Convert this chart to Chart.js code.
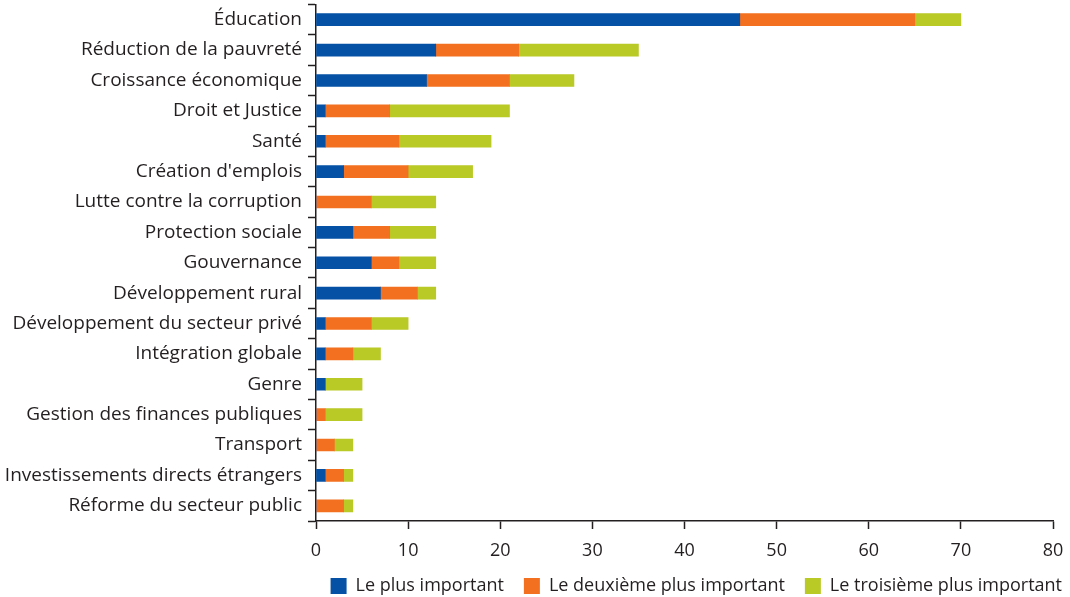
<!DOCTYPE html>
<html>
<head>
<meta charset="utf-8">
<script src="https://cdn.jsdelivr.net/npm/chart.js@4"></script>
<style>
html,body{margin:0;padding:0;background:#fff;}
#wrap{width:1070px;height:597px;position:relative;}
</style>
</head>
<body>
<div id="wrap"><canvas id="c"></canvas></div>
<script>
const categories = ["Éducation","Réduction de la pauvreté","Croissance économique","Droit et Justice","Santé","Création d'emplois","Lutte contre la corruption","Protection sociale","Gouvernance","Développement rural","Développement du secteur privé","Intégration globale","Genre","Gestion des finances publiques","Transport","Investissements directs étrangers","Réforme du secteur public"];
const plusImportant =      [46,13,12,1,1,3,0,4,6,7,1,1,1,0,0,1,0];
const deuxiemeImportant =  [19,9,9,7,8,7,6,4,3,4,5,3,0,1,2,2,3];
const troisiemeImportant = [5,13,7,13,10,7,7,5,4,2,4,3,4,4,2,1,1];
const seriesNames = ["Le plus important","Le deuxième plus important","Le troisième plus important"];
const xTicks = [0,10,20,30,40,50,60,70,80];

const FONT = "Open Sans";
const TXT = "#231f20";
new Chart(document.getElementById('c'), {
  type: 'bar',
  data: {
    labels: categories,
    datasets: [
      {label: seriesNames[0], data: plusImportant, backgroundColor: '#0451a5'},
      {label: seriesNames[1], data: deuxiemeImportant, backgroundColor: '#f37021'},
      {label: seriesNames[2], data: troisiemeImportant, backgroundColor: '#b9c925'}
    ]
  },
  options: {
    indexAxis: 'y',
    responsive: true,
    maintainAspectRatio: false,
    animation: false,
    datasets: {bar: {barThickness: 12, borderWidth: 0}},
    layout: {padding: {top: 4.5, right: -12, bottom: -8, left: 0}},
    plugins: {
      tooltip: {enabled: false},
      legend: {
        position: 'bottom',
        align: 'end',
        labels: {boxWidth: 16, boxHeight: 16, padding: 20, color: TXT, font: {family: FONT, size: 18}}
      }
    },
    scales: {
      x: {
        stacked: true, min: 0, max: 80,
        afterBuildTicks: (s) => { s.ticks = xTicks.map(v => ({value: v})); },
        afterFit: (s) => { s.height = 36; s.paddingRight = 17; s.paddingLeft = 0; },
        grid: {drawOnChartArea: false, drawTicks: true, tickLength: 8, color: TXT, tickWidth: 1.5},
        border: {color: TXT, width: 1.5},
        ticks: {color: TXT, font: {family: FONT, size: 18}, padding: 11, maxRotation: 0}
      },
      y: {
        stacked: true,
        afterFit: (s) => { s.width = 316; s.paddingTop = 0; s.paddingBottom = 0; },
        grid: {drawOnChartArea: false, drawTicks: true, tickLength: 8, color: TXT, tickWidth: 1.5, offset: true},
        border: {color: TXT, width: 1.5},
        ticks: {color: TXT, font: {family: FONT, size: 19}, padding: 6, autoSkip: false}
      }
    }
  }
});
</script>
</body>
</html>
